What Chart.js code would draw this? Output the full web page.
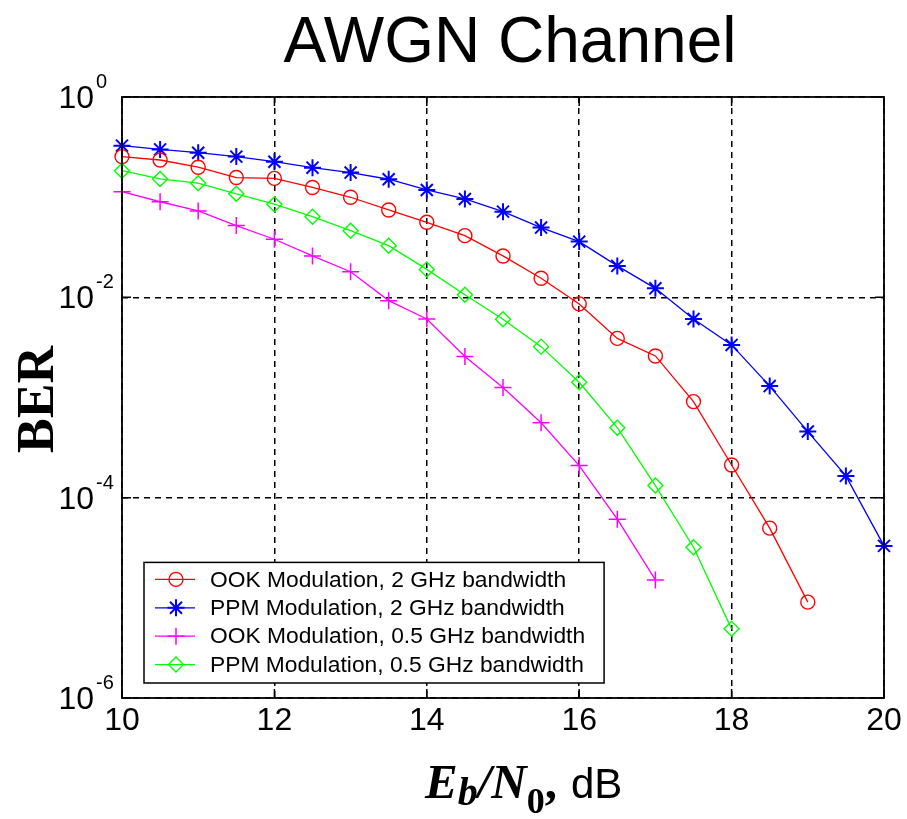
<!DOCTYPE html>
<html>
<head>
<meta charset="utf-8">
<title>AWGN Channel</title>
<script src="https://cdn.jsdelivr.net/npm/chart.js@4.4.1/dist/chart.umd.min.js"></script>
<style>
  html, body { margin: 0; padding: 0; background: #fff; }
  canvas { display: block; }
</style>
</head>
<body>
<canvas id="berChart" width="907" height="819"></canvas>
<script>
// Eb/N0 sample points (dB)
const ebn0 = [10, 10.5, 11, 11.5, 12, 12.5, 13, 13.5, 14, 14.5, 15, 15.5, 16, 16.5, 17, 17.5, 18, 18.5, 19, 19.5, 20];

// BER curves, one value per Eb/N0 point starting at 10 dB
const ookWide = [0.254, 0.235, 0.199, 0.157, 0.154, 0.125, 0.0998, 0.0745, 0.0561, 0.0413, 0.0259, 0.0155, 0.0086, 0.00389, 0.0026, 9.1e-4, 2.12e-4, 4.96e-5, 9.06e-6];
const ppmWide = [0.327, 0.300, 0.278, 0.254, 0.226, 0.197, 0.176, 0.151, 0.118, 0.096, 0.0717, 0.0497, 0.036, 0.0206, 0.0123, 0.00608, 0.00335, 0.0013, 4.57e-4, 1.65e-4, 3.3e-5];
const ookNarrow = [0.1135, 0.090, 0.0728, 0.052, 0.038, 0.0259, 0.018, 0.00927, 0.00608, 0.00257, 0.00126, 5.6e-4, 2.09e-4, 6.1e-5, 1.51e-5];
const ppmNarrow = [0.184, 0.152, 0.138, 0.108, 0.085, 0.0639, 0.0463, 0.0328, 0.019, 0.0106, 0.00604, 0.00322, 0.00142, 5.0e-4, 1.32e-4, 3.2e-5, 4.9e-6];

const seriesLabels = [
  'OOK Modulation, 2 GHz bandwidth',
  'PPM Modulation, 2 GHz bandwidth',
  'OOK Modulation, 0.5 GHz bandwidth',
  'PPM Modulation, 0.5 GHz bandwidth'
];

// axis ticks
const xTicks = [10, 12, 14, 16, 18, 20];
const yExponents = [0, -2, -4, -6];

const SANS = '"Liberation Sans", Arial, sans-serif';
const SERIF = '"Liberation Serif", "Times New Roman", serif';

function toPoints(values) {
  return values.map((v, i) => ({ x: ebn0[i], y: v }));
}

function series(label, values, color, style, radius, width) {
  return {
    label: label,
    data: toPoints(values),
    borderColor: color,
    borderWidth: 1.3,
    pointStyle: style,
    pointRadius: radius,
    pointHoverRadius: radius,
    pointBorderColor: color,
    pointBackgroundColor: 'rgba(0,0,0,0)',
    pointBorderWidth: width,
    tension: 0,
    clip: false
  };
}

// frame, inner ticks, exponent labels, titles and boxed legend
const decorations = {
  id: 'decorations',
  beforeDraw(chart) {
    const ctx = chart.ctx;
    ctx.save();
    ctx.fillStyle = '#fff';
    ctx.fillRect(0, 0, chart.width, chart.height);
    ctx.restore();
  },
  afterDraw(chart) {
    const ctx = chart.ctx;
    const a = chart.chartArea;
    const xs = chart.scales.x;
    const ys = chart.scales.y;
    const tick = 9;

    ctx.save();
    ctx.strokeStyle = '#000';
    ctx.lineWidth = 1.5;
    ctx.setLineDash([]);
    ctx.beginPath();
    xTicks.forEach(v => {
      const px = xs.getPixelForValue(v);
      ctx.moveTo(px, a.bottom); ctx.lineTo(px, a.bottom - tick);
      ctx.moveTo(px, a.top); ctx.lineTo(px, a.top + tick);
    });
    yExponents.forEach(e => {
      const py = ys.getPixelForValue(Math.pow(10, e));
      ctx.moveTo(a.left, py); ctx.lineTo(a.left + tick, py);
      ctx.moveTo(a.right, py); ctx.lineTo(a.right - tick, py);
    });
    ctx.stroke();
    ctx.lineWidth = 1.8;
    ctx.strokeRect(a.left, a.top, a.right - a.left, a.bottom - a.top);

    // y tick labels: 10 with a raised exponent
    ctx.fillStyle = '#000';
    yExponents.forEach(e => {
      const py = ys.getPixelForValue(Math.pow(10, e));
      ctx.font = '32px ' + SANS;
      ctx.textAlign = 'right';
      ctx.textBaseline = 'alphabetic';
      ctx.fillText('10', a.left - 28, py + 11);
      ctx.font = '20px ' + SANS;
      ctx.textAlign = 'left';
      ctx.fillText(String(e), a.left - 26, py - 9);
    });

    // title
    ctx.font = '64px ' + SANS;
    ctx.textAlign = 'center';
    ctx.fillText('AWGN Channel', (a.left + a.right) / 2 + 7, 62);

    // y axis title
    ctx.save();
    ctx.translate(53, (a.top + a.bottom) / 2 + 2);
    ctx.rotate(-Math.PI / 2);
    ctx.font = 'bold 52px ' + SERIF;
    ctx.textAlign = 'center';
    ctx.fillText('BER', 0, 0);
    ctx.restore();

    // x axis title: Eb/N0, dB (symbols in bold italic serif, unit in sans)
    ctx.textAlign = 'left';
    const base = 798;
    const parts = [
      { t: 'E', f: 'italic bold 49px ' + SERIF, dy: 0 },
      { t: 'b', f: 'italic bold 40px ' + SERIF, dy: 7 },
      { t: '/N', f: 'italic bold 49px ' + SERIF, dy: 0 },
      { t: '0', f: 'bold 36px ' + SERIF, dy: 15 },
      { t: ',', f: 'bold 49px ' + SERIF, dy: 0 }
    ];
    let cx = a.left + 303;
    parts.forEach(p => {
      ctx.font = p.f;
      ctx.fillText(p.t, cx, base + p.dy);
      cx += ctx.measureText(p.t).width;
    });
    ctx.font = '42px ' + SANS;
    ctx.fillText('dB', cx + 14, base);

    // legend box
    const rowH = 28.4;
    const sets = chart.data.datasets;
    const legendFont = '22.8px ' + SANS;
    ctx.font = legendFont;
    let maxW = 0;
    sets.forEach(d => { maxW = Math.max(maxW, ctx.measureText(d.label).width); });
    const boxL = a.left + 22;
    const boxB = a.bottom - 15;
    const boxH = rowH * sets.length + 7;
    const boxT = boxB - boxH;
    const boxW = 66 + maxW + 19;
    ctx.fillStyle = '#fff';
    ctx.fillRect(boxL, boxT, boxW, boxH);
    ctx.strokeStyle = '#000';
    ctx.lineWidth = 1.5;
    ctx.strokeRect(boxL, boxT, boxW, boxH);
    sets.forEach((d, i) => {
      const y = boxT + 17 + i * rowH;
      ctx.strokeStyle = d.borderColor;
      ctx.lineWidth = d.borderWidth;
      ctx.beginPath();
      ctx.moveTo(boxL + 11, y);
      ctx.lineTo(boxL + 51, y);
      ctx.stroke();
      ctx.fillStyle = 'rgba(0,0,0,0)';
      ctx.lineWidth = d.pointBorderWidth;
      Chart.helpers.drawPoint(ctx, {
        pointStyle: d.pointStyle,
        radius: d.pointRadius,
        rotation: 0,
        borderWidth: d.pointBorderWidth
      }, boxL + 32, y);
      ctx.fillStyle = '#000';
      ctx.font = legendFont;
      ctx.textAlign = 'left';
      ctx.textBaseline = 'middle';
      ctx.fillText(d.label, boxL + 66, y + 1);
    });
    ctx.restore();
  }
};

const ctx = document.getElementById('berChart').getContext('2d');
new Chart(ctx, {
  type: 'line',
  data: {
    datasets: [
      series(seriesLabels[0], ookWide, '#ff0000', 'circle', 7, 1.4),
      series(seriesLabels[1], ppmWide, '#0000ff', 'star', 8.5, 2),
      series(seriesLabels[2], ookNarrow, '#ff00ff', 'cross', 8.5, 1.5),
      series(seriesLabels[3], ppmNarrow, '#00ff00', 'rectRot', 7.5, 1.4)
    ]
  },
  options: {
    responsive: false,
    animation: false,
    devicePixelRatio: 1,
    layout: { padding: { top: 97, right: 23, left: 0, bottom: 0 } },
    plugins: {
      legend: { display: false },
      title: { display: false },
      tooltip: { enabled: false }
    },
    scales: {
      x: {
        type: 'linear',
        min: 10,
        max: 20,
        afterFit: s => { s.height = 121; },
        afterBuildTicks: s => { s.ticks = xTicks.map(v => ({ value: v })); },
        grid: { color: '#000', lineWidth: 1.5, drawTicks: false },
        border: { display: false, dash: [6, 5] },
        ticks: {
          color: '#000',
          padding: 4,
          font: { family: SANS, size: 32 }
        }
      },
      y: {
        type: 'logarithmic',
        min: 1e-6,
        max: 1,
        afterFit: s => { s.width = 122; },
        afterBuildTicks: s => { s.ticks = yExponents.map(e => ({ value: Math.pow(10, e) })); },
        grid: { color: '#000', lineWidth: 1.5, drawTicks: false },
        border: { display: false, dash: [6, 5] },
        ticks: { display: false }
      }
    }
  },
  plugins: [decorations]
});
</script>
</body>
</html>
